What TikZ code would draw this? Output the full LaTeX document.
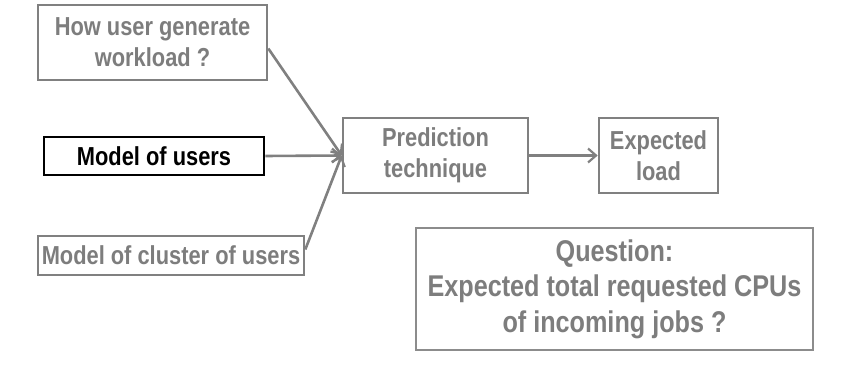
\documentclass[tikz,border=0pt]{standalone}
\usepackage{fontspec}
\setmainfont{Liberation Sans}[FakeStretch=0.84]
\usetikzlibrary{arrows.meta}
\definecolor{boxgray}{RGB}{128,128,128}
\definecolor{textgray}{RGB}{125,125,125}
\definecolor{framegray}{RGB}{140,140,140}
\tikzset{
  graybox/.style={draw=boxgray, line width=2.6pt, fill=white, text=textgray,
    font=\bfseries\fontsize{26}{31}\selectfont, align=center, inner sep=0pt},
  blackbox/.style={draw=black, line width=2.6pt, fill=white, text=black,
    font=\bfseries\fontsize{26}{31}\selectfont, align=center, inner sep=0pt},
  qbox/.style={draw=framegray, line width=1.5pt, fill=white, text=textgray,
    font=\bfseries\fontsize{30}{35.5}\selectfont, align=center, inner sep=0pt},
  link/.style={draw=boxgray, line width=2.6pt,
    -{Straight Barb[length=8pt,width=14pt,line width=2.2pt]}}
}
\begin{document}
\begin{tikzpicture}[x=1pt,y=-1pt]
  \useasboundingbox (0,0) rectangle (849,366);
  % input boxes
  \node[graybox, minimum width=229pt, minimum height=75pt] (how) at (152.5,42.5)
    {How user generate\\workload ?};
  \node[blackbox, minimum width=220pt, minimum height=38pt] (mou) at (154,156)
    {Model of users};
  \node[graybox, minimum width=266pt, minimum height=39pt] (moc) at (171,255.5)
    {Model of cluster of users};
  % processing chain
  \node[graybox, minimum width=185pt, minimum height=75pt] (pred) at (435.5,155.5)
    {Prediction\\technique};
  \node[graybox, minimum width=119pt, minimum height=75pt] (load) at (658.5,155.5)
    {Expected\\load};
  % question frame
  \node[qbox, minimum width=397pt, minimum height=122pt] (q) at (614.5,289)
    {Question:\\Expected total requested CPUs\\of incoming jobs ?};
  % connectors
  \draw[link] ([yshift=-6pt]how.east) -- (pred.west);
  \draw[link] (mou.east) -- (pred.west);
  \draw[link] ([yshift=6pt]moc.east) -- (pred.west);
  \draw[link] (pred.east) -- (load.west);
\end{tikzpicture}
\end{document}
